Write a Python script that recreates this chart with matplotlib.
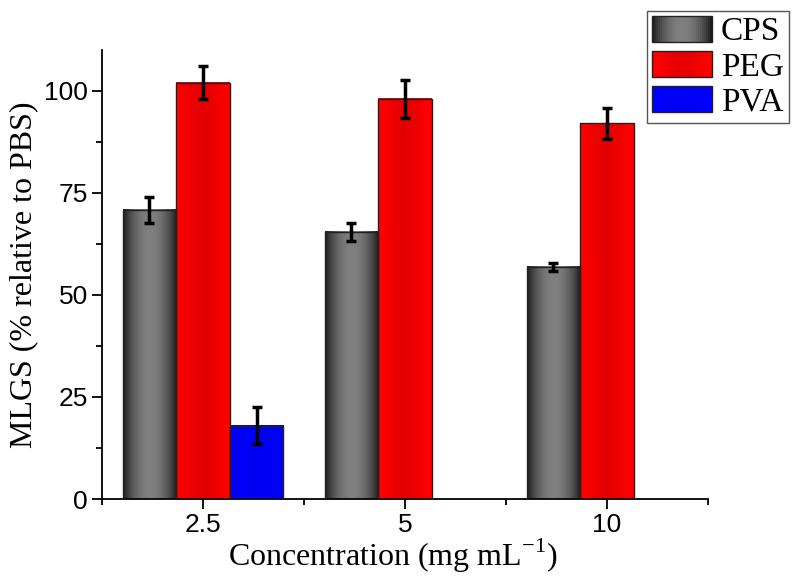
import numpy as np
import matplotlib.pyplot as plt
from matplotlib.patches import Rectangle
from matplotlib.legend_handler import HandlerBase
from matplotlib.ticker import MultipleLocator, FixedLocator

concentrations = ['2.5', '5', '10']
cps = [70.8, 65.4, 56.9]
cps_err = [3.3, 2.1, 1.0]
peg = [102.0, 98.0, 92.0]
peg_err = [4.0, 4.6, 3.7]
pva = [18.0, np.nan, np.nan]
pva_err = [4.6, np.nan, np.nan]

series = ['CPS', 'PEG', 'PVA']

serif = 'Liberation Serif'
sans = 'Liberation Sans'


def profile(n=64):
    t = np.linspace(0, 1, n)
    return np.sin(np.pi * t) ** 0.8


def gradient_colors(name, n=64):
    p = profile(n)
    if name == 'CPS':
        g = 0.10 + 0.40 * p
        return np.stack([g, g, g], axis=1)
    if name == 'PEG':
        r = 1.0 - 0.10 * p ** 2
        return np.stack([r, np.zeros(n), np.zeros(n)], axis=1)
    b = 1.0 - 0.04 * p
    return np.stack([np.zeros(n), np.zeros(n), b], axis=1)


class GradientHandler(HandlerBase):
    def __init__(self, name):
        super().__init__()
        self.name = name

    def create_artists(self, legend, orig_handle, xdescent, ydescent,
                       width, height, fontsize, trans):
        cols = gradient_colors(self.name, 30)
        artists = []
        w = width / len(cols)
        for i, c in enumerate(cols):
            artists.append(Rectangle((-xdescent + i * w, -ydescent), w * 1.05, height,
                                     facecolor=c, edgecolor='none', transform=trans))
        artists.append(Rectangle((-xdescent, -ydescent), width, height,
                                 facecolor='none', edgecolor='#222222', lw=1.0, transform=trans))
        return artists


fig = plt.figure(figsize=(8, 5.84), dpi=100)
ax = fig.add_axes([0.1275, 0.1455, 0.7575, 0.769])

x = np.arange(1, len(concentrations) + 1)
width = 0.265
offsets = [-width, 0, width]
values = [cps, peg, pva]
errors = [cps_err, peg_err, pva_err]

handles = []
for name, off, vals, errs in zip(series, offsets, values, errors):
    bars = ax.bar(x + off, vals, width, facecolor='none', edgecolor='#222222',
                  linewidth=1.0, zorder=3, label=name)
    handles.append(bars)
    img = gradient_colors(name)[np.newaxis, :, :]
    for b in bars:
        h = b.get_height()
        if np.isnan(h):
            continue
        ax.imshow(img, extent=[b.get_x(), b.get_x() + b.get_width(), 0, h],
                  aspect='auto', zorder=2, interpolation='bilinear')
    ax.errorbar(x + off, vals, yerr=errs, fmt='none', ecolor='black',
                elinewidth=2.5, capsize=3.5, capthick=2.5, zorder=4)

ax.set_xlim(0.5, 3.5)
ax.set_ylim(0, 110)
ax.set_xticks(x)
ax.set_xticklabels(concentrations)
ax.xaxis.set_minor_locator(FixedLocator([0.5, 1.5, 2.5, 3.5]))
ax.set_yticks([0, 25, 50, 75, 100])
ax.yaxis.set_minor_locator(MultipleLocator(12.5))

for s in ['top', 'right']:
    ax.spines[s].set_visible(False)
for s in ['left', 'bottom']:
    ax.spines[s].set_linewidth(1.3)

ax.tick_params(axis='both', which='major', direction='out', length=7, width=1.3,
               labelsize=19, pad=3)
ax.tick_params(axis='both', which='minor', direction='out', length=4, width=1.3)
for lab in ax.get_xticklabels() + ax.get_yticklabels():
    lab.set_fontfamily(sans)

ax.set_xlabel('Concentration (mg mL$^{\\mathregular{-1}}$)', fontfamily=serif,
              fontsize=23, labelpad=0)
ax.xaxis.label.set_x(0.48)
ax.set_ylabel('MLGS (% relative to PBS)', fontfamily=serif, fontsize=23, labelpad=4)

leg = fig.legend(handles, series, loc='upper right',
                 bbox_to_anchor=(0.986, 0.982),
                 handler_map={h: GradientHandler(n) for h, n in zip(handles, series)},
                 prop={'family': serif, 'size': 24},
                 fancybox=False, edgecolor='#555555', framealpha=1,
                 handlelength=1.8, handleheight=0.85, handletextpad=0.25,
                 labelspacing=0.1, borderpad=0.15, borderaxespad=0)
leg.get_frame().set_linewidth(1.0)

fig.savefig('out.png', dpi=100)
